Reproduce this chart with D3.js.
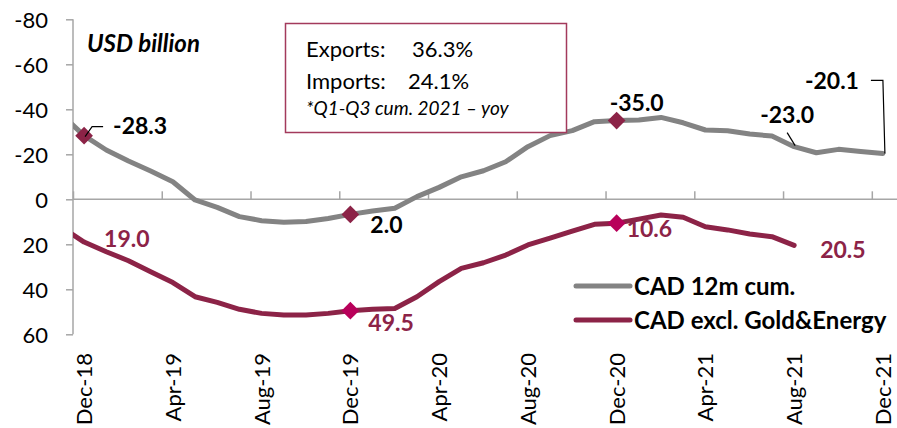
<!DOCTYPE html>
<html>
<head>
<meta charset="utf-8">
<script src="https://cdn.jsdelivr.net/npm/d3@7"></script>
<style>
  body { margin: 0; background: #fff; }
  svg text { font-family: Lato, "Open Sans", sans-serif; }
</style>
</head>
<body>
<div id="chart"></div>
<script>
// monthly points; Nov-18 only feeds the line start at the axis edge
var months = ["Nov-18", "Dec-18", "Jan-19", "Feb-19", "Mar-19", "Apr-19", "May-19", "Jun-19",
  "Jul-19", "Aug-19", "Sep-19", "Oct-19", "Nov-19", "Dec-19", "Jan-20", "Feb-20", "Mar-20",
  "Apr-20", "May-20", "Jun-20", "Jul-20", "Aug-20", "Sep-20", "Oct-20", "Nov-20", "Dec-20",
  "Jan-21", "Feb-21", "Mar-21", "Apr-21", "May-21", "Jun-21", "Jul-21", "Aug-21", "Sep-21",
  "Oct-21", "Nov-21", "Dec-21"];

var cad12m = [-37.5, -28.3, -21.9, -17.0, -12.6, -7.8, 0.3, 3.6, 7.7, 9.5, 10.2, 9.9, 8.5,
  6.7, 5.2, 4.0, -1.2, -5.3, -10.0, -12.7, -16.7, -23.4, -28.3, -30.5, -34.5, -35.0,
  -35.2, -36.4, -34.0, -30.8, -30.5, -29.0, -28.1, -23.4, -20.7, -22.2, -21.2, -20.4];

var cadExcl = [12.5, 19.0, 23.3, 27.3, 32.2, 37.0, 43.3, 45.8, 48.9, 50.7, 51.4, 51.4, 50.7,
  49.5, 48.9, 48.5, 43.3, 36.6, 30.7, 28.2, 24.8, 20.3, 17.3, 14.1, 11.1, 10.6,
  8.8, 7.0, 8.0, 12.2, 13.6, 15.4, 16.6, 20.5];

var tickLabels = ["Dec-18", "Apr-19", "Aug-19", "Dec-19", "Apr-20", "Aug-20", "Dec-20", "Apr-21", "Aug-21", "Dec-21"];
var yTicks = [-80, -60, -40, -20, 0, 20, 40, 60];

var markMonths12m = ["Dec-18", "Dec-19", "Dec-20"];
var markMonthsExcl = ["Dec-19", "Dec-20"];

var labels12m = ["-28.3", "2.0", "-35.0", "-23.0", "-20.1"];
var labelMonths12m = ["Dec-18", "Dec-19", "Dec-20", "Aug-21", "Dec-21"];
var labelsExcl = ["19.0", "49.5", "10.6", "20.5"];
var labelMonthsExcl = ["Dec-18", "Dec-19", "Dec-20", "Aug-21"];

var seriesNames = ["CAD 12m cum.", "CAD excl. Gold&Energy"];

var grey = "#838383", maroon = "#8C2347", pink = "#B8005A";

var width = 897, height = 428;
var plotLeft = 73, plotRight = 894, plotTop = 19.3, plotBottom = 334.3;

var svg = d3.select("#chart").append("svg")
    .attr("width", width)
    .attr("height", height);

// month index: Dec-18 is 0
var idx = function (m) { return months.indexOf(m) - 1; };

var x = d3.scaleLinear().domain([-0.5, 36.5]).range([plotLeft, plotRight]);
var y = d3.scaleLinear().domain([-80, 60]).range([plotTop, plotBottom]);

svg.append("clipPath").attr("id", "plot")
  .append("rect")
    .attr("x", plotLeft).attr("y", 0)
    .attr("width", plotRight - plotLeft + 4).attr("height", height);

// y axis
var yAxis = svg.append("g")
    .attr("transform", "translate(" + plotLeft + ",0)")
    .call(d3.axisLeft(y).tickValues(yTicks).tickSize(7).tickPadding(18).tickFormat(function (d) { return String(d); }));
yAxis.select(".domain").attr("stroke", "#a6a6a6").attr("stroke-width", 1.5)
    .attr("d", "M0," + plotTop + "V" + plotBottom);
yAxis.selectAll(".tick line").attr("stroke", "#a6a6a6").attr("stroke-width", 1.5);
yAxis.selectAll(".tick text")
    .attr("fill", "#000")
    .style("font-size", "22px")
    .attr("dy", "0.36em");

// category axis crossing at zero, ticks between every 4 months
var xAxis = svg.append("g")
    .attr("transform", "translate(0," + y(0) + ")")
    .call(d3.axisTop(x).tickValues(d3.range(-0.5, 37, 4)).tickSize(8).tickFormat(""));
xAxis.select(".domain").attr("stroke", "#a6a6a6").attr("stroke-width", 1.5)
    .attr("d", "M" + plotLeft + ",0H" + (plotRight + 3));
xAxis.selectAll(".tick line").attr("stroke", "#a6a6a6").attr("stroke-width", 1.5);

svg.append("g").selectAll("text")
  .data(tickLabels)
  .join("text")
    .attr("transform", function (d) { return "translate(" + x(idx(d)) + ",353) rotate(-90)"; })
    .attr("text-anchor", "end")
    .attr("dy", "0.36em")
    .style("font-size", "22px")
    .attr("fill", "#000")
    .text(function (d) { return d; });

// lines
var line = d3.line()
    .x(function (d, i) { return x(i - 1); })
    .y(function (d) { return y(d); });

var lines = svg.append("g").attr("clip-path", "url(#plot)");
lines.append("path")
    .datum(cad12m)
    .attr("d", line)
    .attr("fill", "none")
    .attr("stroke", grey)
    .attr("stroke-width", 5)
    .attr("stroke-linejoin", "round")
    .attr("stroke-linecap", "round");
lines.append("path")
    .datum(cadExcl)
    .attr("d", line)
    .attr("fill", "none")
    .attr("stroke", maroon)
    .attr("stroke-width", 5)
    .attr("stroke-linejoin", "round")
    .attr("stroke-linecap", "round");

// diamond markers
var diamond = d3.symbol().type(d3.symbolDiamond2).size(200);
svg.append("g").selectAll("path")
  .data(markMonths12m)
  .join("path")
    .attr("d", diamond)
    .attr("transform", function (d) { return "translate(" + x(idx(d)) + "," + y(cad12m[months.indexOf(d)]) + ")"; })
    .attr("fill", maroon);
svg.append("g").selectAll("path")
  .data(markMonthsExcl)
  .join("path")
    .attr("d", diamond)
    .attr("transform", function (d) { return "translate(" + x(idx(d)) + "," + y(cadExcl[months.indexOf(d)]) + ")"; })
    .attr("fill", pink);

// data labels (offsets from their points)
var off12m = [[29, -2], [20, 19], [-7, -10], [-34, -24], [-78, -64]];
var offExcl = [[20, 5], [18, 20], [10, 14], [26, 13]];

svg.append("g").selectAll("text")
  .data(labels12m)
  .join("text")
    .attr("x", function (d, i) { return x(idx(labelMonths12m[i])) + off12m[i][0]; })
    .attr("y", function (d, i) { return y(cad12m[months.indexOf(labelMonths12m[i])]) + off12m[i][1]; })
    .style("font-size", "23px")
    .style("font-weight", "bold")
    .attr("fill", "#000")
    .text(function (d) { return d; });

svg.append("g").selectAll("text")
  .data(labelsExcl)
  .join("text")
    .attr("x", function (d, i) { return x(idx(labelMonthsExcl[i])) + offExcl[i][0]; })
    .attr("y", function (d, i) { return y(cadExcl[months.indexOf(labelMonthsExcl[i])]) + offExcl[i][1]; })
    .style("font-size", "23px")
    .style("font-weight", "bold")
    .attr("fill", maroon)
    .text(function (d) { return d; });

// leader lines
var p0 = [x(idx("Dec-18")), y(cad12m[1])];
svg.append("path")
    .attr("d", "M" + (p0[0] + 1) + "," + (p0[1] + 1) + "L" + (p0[0] + 8) + "," + (p0[1] - 9) + "H" + (p0[0] + 19))
    .attr("fill", "none").attr("stroke", "#000").attr("stroke-width", 1.2);
var p1 = [x(idx("Aug-21")), y(cad12m[months.indexOf("Aug-21")])];
svg.append("path")
    .attr("d", "M" + (p1[0] - 7) + "," + (p1[1] - 14) + "L" + (p1[0] + 1) + "," + (p1[1] - 1))
    .attr("fill", "none").attr("stroke", "#000").attr("stroke-width", 1.2);
var p2 = [x(idx("Dec-21")), y(cad12m[cad12m.length - 1])];
svg.append("path")
    .attr("d", "M" + (p2[0] - 12) + "," + (p2[1] - 73) + "H" + p2[0] + "L" + (p2[0] + 2) + "," + p2[1])
    .attr("fill", "none").attr("stroke", "#000").attr("stroke-width", 1.2);

// unit
svg.append("text")
    .attr("x", 87).attr("y", 52)
    .style("font-size", "24px")
    .style("font-weight", "bold")
    .style("font-style", "italic")
    .text("USD billion");

// note box
svg.append("rect")
    .attr("x", 285.5).attr("y", 23.5)
    .attr("width", 281).attr("height", 109)
    .attr("fill", "#fff")
    .attr("stroke", "#A33A5C")
    .attr("stroke-width", 1.5);
svg.append("text").attr("x", 306).attr("y", 57).style("font-size", "22px")
    .text("Exports:").append("tspan").attr("x", 412).text("36.3%");
svg.append("text").attr("x", 306).attr("y", 89).style("font-size", "22px")
    .text("Imports:").append("tspan").attr("x", 408).text("24.1%");
svg.append("text").attr("x", 306).attr("y", 115).style("font-size", "19px")
    .style("font-style", "italic")
    .text("*Q1-Q3 cum. 2021 \u2013 yoy");

// legend
var legend = svg.append("g").selectAll("g")
  .data(seriesNames)
  .join("g")
    .attr("transform", function (d, i) { return "translate(576," + (286 + i * 34) + ")"; });
legend.append("line")
    .attr("x1", 0).attr("x2", 54)
    .attr("stroke", function (d, i) { return i === 0 ? grey : maroon; })
    .attr("stroke-width", 5)
    .attr("stroke-linecap", "round");
legend.append("text")
    .attr("x", 58).attr("dy", "0.36em")
    .style("font-size", "24px")
    .style("font-weight", "bold")
    .text(function (d) { return d; });
</script>
</body>
</html>
